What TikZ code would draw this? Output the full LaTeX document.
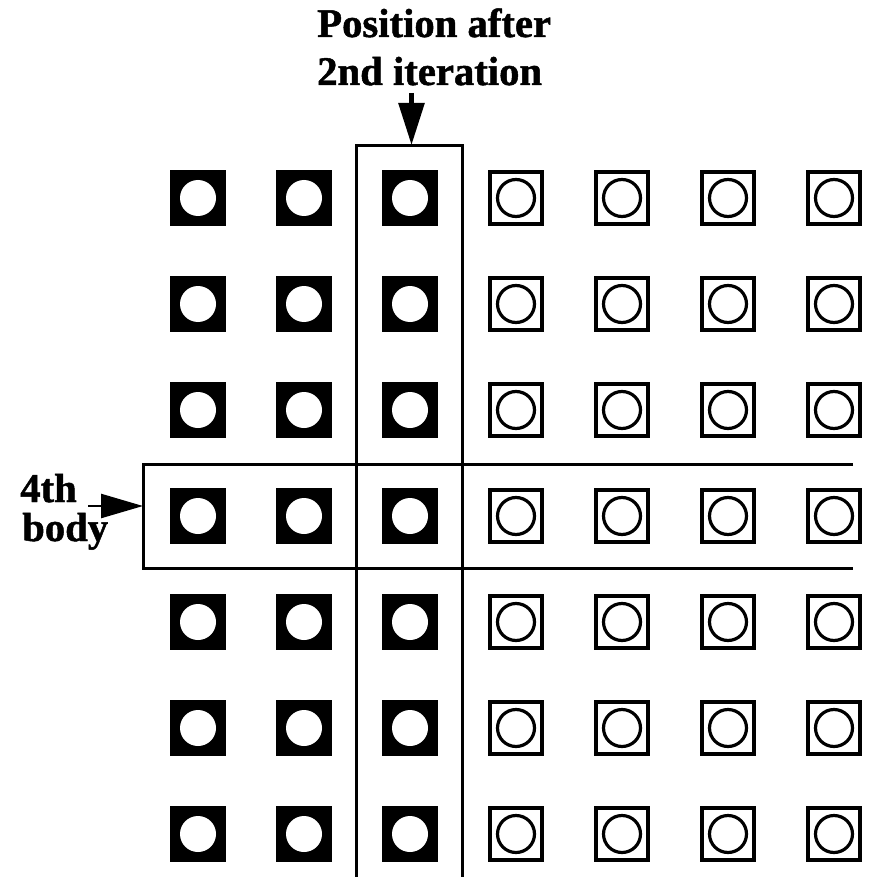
\documentclass[tikz,border=0pt]{standalone}
\usepackage{fontspec}
\setmainfont{Liberation Serif}[BoldFeatures={FakeBold=1.2}]
\usetikzlibrary{arrows.meta}
\begin{document}
\begin{tikzpicture}[x=0.75pt,y=-0.75pt,
  solidcell/.style={fill=black, minimum size=42pt, inner sep=0pt, draw=none},
  hole/.style={circle, fill=white, minimum size=27pt, inner sep=0pt},
  opencell/.style={draw=black, line width=2.4pt, minimum size=39pt, inner sep=0pt},
  ring/.style={circle, draw=black, line width=2.4pt, minimum size=27.75pt, inner sep=0pt},
  frame/.style={line width=2.25pt},
  lbl/.style={font=\fontsize{30.5}{36}\selectfont\bfseries, inner sep=0pt},
  pointer/.style={line width=3.5pt, -{Triangle[length=31.5pt,width=19pt]}},
  sidepointer/.style={line width=1.8pt, -{Triangle[length=31.5pt,width=18pt]}}]
\useasboundingbox (0,0) rectangle (873,877);
\foreach \i in {0,...,6}{
  \foreach \j in {0,...,6}{
    \ifnum\i<3
      \node[solidcell] (c\i\j) at ({198+106*\i},{198+106*\j}) {};
      \node[hole] (h\i\j) at (c\i\j) {};
    \else
      \node[opencell] (c\i\j) at ({198+106*\i},{198+106*\j}) {};
      \node[ring] (h\i\j) at (c\i\j) {};
    \fi
  }
}
% column frame
\coordinate (vtl) at (356.5,146);
\coordinate (vtr) at (462.5,146);
\coordinate (vbl) at (356.5,877);
\coordinate (vbr) at (462.5,877);
\draw[frame] (vbl) -- (vtl) -- (vtr) -- (vbr);
% row frame
\coordinate (htl) at (143,464);
\coordinate (htr) at (853,464);
\coordinate (hbl) at (143,568);
\coordinate (hbr) at (853,568);
\draw[frame] (htr) -- (htl) -- (hbl) -- (hbr);
% labels
\node[lbl, anchor=base west] (t1) at (317,37) {Position after};
\node[lbl, anchor=base west] (t2) at (317,85) {2nd iteration};
\node[lbl, anchor=base west] (b1) at (20,502) {4th};
\node[lbl, anchor=base west] (b2) at (22,541) {body};
% arrows
\coordinate (atop) at (411.5,93);
\coordinate (atip) at (411.5,145);
\draw[pointer] (atop) -- (atip);
\coordinate (lstart) at (88,506);
\coordinate (ltip) at (143,506);
\draw[sidepointer] (lstart) -- (ltip);
\end{tikzpicture}
\end{document}
